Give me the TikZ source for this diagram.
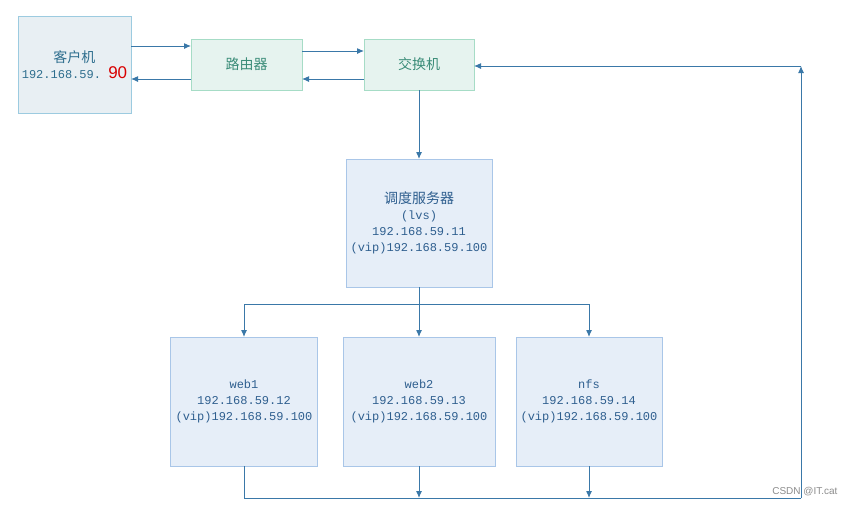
\documentclass[tikz,border=0pt]{standalone}
\usepackage{fontspec}
\setmonofont{Liberation Mono}
\newfontfamily\cjk{Noto Sans CJK SC}
\newfontfamily\wm{Liberation Sans}
\usetikzlibrary{arrows.meta}
\definecolor{lineblue}{HTML}{3A78A8}
\definecolor{cfill}{HTML}{E8EFF3}
\definecolor{cdraw}{HTML}{9CCBE0}
\definecolor{ctext}{HTML}{2E6E8E}
\definecolor{gfill}{HTML}{E6F3EF}
\definecolor{gdraw}{HTML}{A6DCC6}
\definecolor{gtext}{HTML}{3A8C78}
\definecolor{bfill}{HTML}{E6EEF8}
\definecolor{bdraw}{HTML}{A9C6E8}
\definecolor{btext}{HTML}{2F5F8F}
\tikzset{
  box/.style={draw, line width=1pt, inner sep=0pt, outer sep=0pt, align=center, font=\ttfamily\fontsize{12}{16}\selectfont},
  client/.style={box, fill=cfill, draw=cdraw, text=ctext},
  netdev/.style={box, fill=gfill, draw=gdraw, text=gtext},
  server/.style={box, fill=bfill, draw=bdraw, text=btext},
  conn/.style={draw=lineblue, line width=1pt},
  arr/.style={conn, -{Latex[length=7pt,width=6pt]}},
}
\begin{document}
\begin{tikzpicture}[x=1pt,y=-1pt]
\useasboundingbox (0,0) rectangle (855,507);
\fill[white] (0,0) rectangle (855,507);
\node[client, minimum width=113pt, minimum height=97pt] (client) at (74.5,64.5)
  {{\cjk\fontsize{14}{16}\selectfont 客户机}\\192.168.59. {\wm\fontsize{17}{16}\selectfont\color{red!85!black}90}};
\node[netdev, minimum width=111pt, minimum height=51pt] (router) at (246.5,64.5) {{\cjk\fontsize{14}{16}\selectfont 路由器}};
\node[netdev, minimum width=110pt, minimum height=51pt] (switch) at (419,64.5) {{\cjk\fontsize{14}{16}\selectfont 交换机}};
\node[server, minimum width=146pt, minimum height=128pt] (lvs) at (419,223)
  {{\cjk\fontsize{14}{16}\selectfont 调度服务器}\\(lvs)\\192.168.59.11\\(vip)192.168.59.100};
\node[server, minimum width=147pt, minimum height=129pt] (web1) at (244,401.5)
  {web1\\192.168.59.12\\(vip)192.168.59.100};
\node[server, minimum width=152pt, minimum height=129pt] (web2) at (419,401.5)
  {web2\\192.168.59.13\\(vip)192.168.59.100};
\node[server, minimum width=146pt, minimum height=129pt] (nfs) at (589,401.5)
  {nfs\\192.168.59.14\\(vip)192.168.59.100};
\coordinate (split) at (419,304);
\coordinate (joinL) at (244,498);
\coordinate (joinR) at (801,498);
\coordinate (corner) at (801,66);
% top links
\draw[arr] (client.east |- 0,46) -- (router.west |- 0,46);
\draw[arr] (router.west |- 0,79) -- (client.east |- 0,79);
\draw[arr] (router.east |- 0,51) -- (switch.west |- 0,51);
\draw[arr] (switch.west |- 0,79) -- (router.east |- 0,79);
\draw[arr] (switch.south) -- (lvs.north);
% fan out
\draw[conn] (lvs.south) -- (split);
\draw[conn] (web1.north |- split) -- (nfs.north |- split);
\draw[arr] (web1.north |- split) -- (web1.north);
\draw[arr] (split) -- (web2.north);
\draw[arr] (nfs.north |- split) -- (nfs.north);
% return path
\draw[conn] (web1.south) -- (joinL) -- (joinR);
\draw[arr] (web2.south) -- (web2.south |- joinL);
\draw[arr] (nfs.south) -- (nfs.south |- joinL);
\draw[arr] (joinR) -- (corner);
\draw[arr] (corner) -- (switch.east |- corner);
\node[text=black!45, font=\wm\fontsize{10}{12}\selectfont, anchor=east] (wmark) at (841,492) {CSDN @IT.cat};
\end{tikzpicture}
\end{document}
